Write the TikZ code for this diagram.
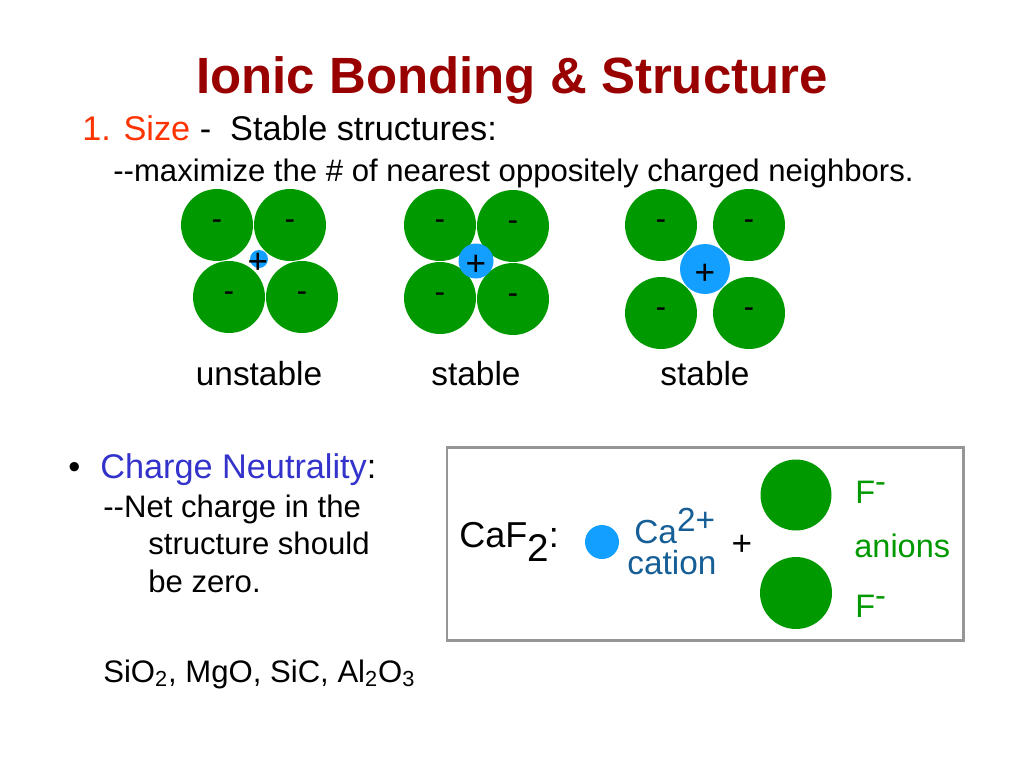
\documentclass[tikz,border=0pt]{standalone}
\usepackage{fontspec}
\setmainfont{Liberation Sans}
\usepackage{tikz}
\usetikzlibrary{positioning}
\definecolor{TitleRed}{HTML}{990000}
\definecolor{SizeRed}{HTML}{FF3300}
\definecolor{NeutBlue}{HTML}{3333CC}
\definecolor{AnGreen}{HTML}{009900}
\definecolor{CatBlue}{HTML}{129FFF}
\definecolor{CatText}{HTML}{165E96}
\definecolor{BoxGray}{HTML}{969696}
\newcommand{\fs}[1]{\fontsize{#1}{1.2\dimexpr#1pt\relax}\selectfont}

\begin{document}
\begin{tikzpicture}[x=0.02cm,y=-0.02cm,
        anion/.style={circle,fill=AnGreen,inner sep=0pt,minimum size=1.44cm,font=\fs{18}},
        cation/.style={circle,fill=CatBlue,inner sep=0pt},
        plus/.style={inner sep=0pt,font=\fs{20}},
        txt/.style={anchor=base west,inner sep=0pt,font=\fs{19.5}},
        subtxt/.style={anchor=base west,inner sep=0pt,font=\fs{17.7}},
        caption/.style={anchor=base,inner sep=0pt,font=\fs{19}}]
        \useasboundingbox (0,0) rectangle (1024,768);
        \node[inner sep=0pt,anchor=base,font=\fs{29}\bfseries,text=TitleRed] (title) at (512,93) {Ionic Bonding \& Structure};
        \node[txt] (size) at (82,140) {\textcolor{SizeRed}{1. Size} -\ \ Stable structures:};
        \node[subtxt] (maxi) at (113,181) {-{}-maximize the \# of nearest oppositely charged neighbors.};
        % unstable
        \node[anion] (u1) at (217,225) {-};
        \node[anion] (u2) at (290,225) {-};
        \node[anion] (u3) at (229,297) {-};
        \node[anion] (u4) at (302,297) {-};
        \node[cation,minimum size=0.36cm] (uc) at (259,259) {};
        \node[plus] (up) at (258,263) {+};
        \node[caption] (ul) at (259,385) {unstable};
        % stable, touching
        \node[anion] (s1) at (440,225) {-};
        \node[anion] (s2) at (513,226) {-};
        \node[anion] (s3) at (440,298) {-};
        \node[anion] (s4) at (513,299) {-};
        \node[cation,minimum size=0.7cm] (sc) at (476,261) {};
        \node[plus] (sp) at (476,265) {+};
        \node[caption] (sl) at (476,385) {stable};
        % stable, apart
        \node[anion] (t1) at (661,225) {-};
        \node[anion] (t2) at (749,225) {-};
        \node[anion] (t3) at (661,313) {-};
        \node[anion] (t4) at (749,313) {-};
        \node[cation,minimum size=1.0cm] (tc) at (705,269) {};
        \node[plus] (tp) at (705,274) {+};
        \node[caption] (tl) at (705,385) {stable};
        % charge neutrality
        \node[txt] (bul) at (68,478) {\textbullet};
        \node[txt] (neut) at (100,478) {\textcolor{NeutBlue}{Charge Neutrality}:};
        \node[subtxt] (n1) at (103,517) {-{}-Net charge in the};
        \node[subtxt] (n2) at (148,554) {structure should};
        \node[subtxt] (n3) at (148,592) {be zero.};
        \node[subtxt] (ex) at (103,682) {SiO\textsubscript{2}, MgO, SiC, Al\textsubscript{2}O\textsubscript{3}};
        % CaF2 box
        \draw[BoxGray,line width=1.7pt] (447,447) rectangle (963,640);
        \node[anchor=base west,inner sep=0pt,font=\fs{20.5}] (caf) at (459,547) {CaF\raisebox{-8.5pt}{\fs{22}2}:};
        \node[cation,minimum size=0.68cm] (dot) at (602,542) {};
        \node[anchor=base west,inner sep=0pt,font=\fs{19},text=CatText] (ca) at (634,543) {Ca\raisebox{6.8pt}{2+}};
        \node[anchor=base west,inner sep=0pt,font=\fs{19},text=CatText] (cat) at (627,574) {cation};
        \node[plus] (bp) at (742,545) {+};
        \node[anion,minimum size=1.42cm] (f1) at (796,495) {};
        \node[anion] (f2) at (796,593) {};
        \node[anchor=base west,inner sep=0pt,font=\fs{18.5},text=AnGreen] (fa) at (855,503) {F\raisebox{6pt}{-}};
        \node[anchor=base west,inner sep=0pt,font=\fs{18.5},text=AnGreen] (an) at (854,557) {anions};
        \node[anchor=base west,inner sep=0pt,font=\fs{18.5},text=AnGreen] (fb) at (855,617) {F\raisebox{6pt}{-}};
      \end{tikzpicture}
\end{document}
